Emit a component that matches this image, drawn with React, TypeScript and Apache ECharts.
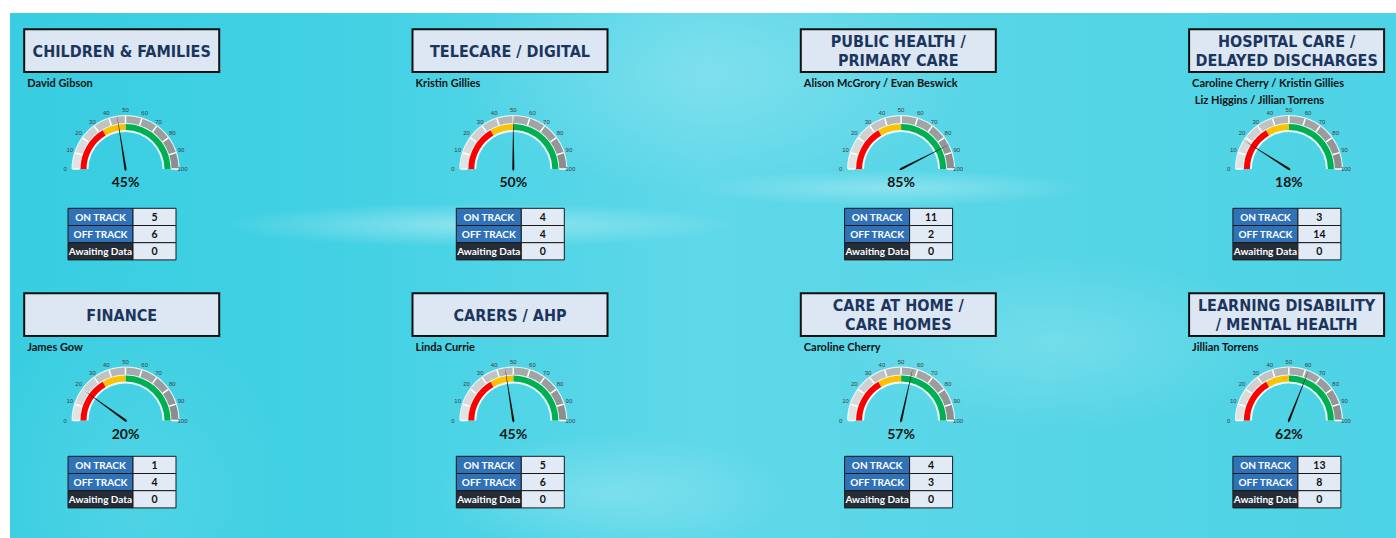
import React, { useEffect, useRef } from "react";
import * as echarts from "echarts";

// ---------------- data ----------------
const titles = [
  "CHILDREN & FAMILIES",
  "TELECARE / DIGITAL",
  "PUBLIC HEALTH /\nPRIMARY CARE",
  "HOSPITAL CARE /\nDELAYED DISCHARGES",
  "FINANCE",
  "CARERS / AHP",
  "CARE AT HOME /\nCARE HOMES",
  "LEARNING DISABILITY\n/ MENTAL HEALTH",
];
const leads = [
  "David Gibson",
  "Kristin Gillies",
  "Alison McGrory / Evan Beswick",
  "Caroline Cherry / Kristin Gillies\n Liz Higgins / Jillian Torrens",
  "James Gow",
  "Linda Currie",
  "Caroline Cherry",
  "Jillian Torrens",
];
const percentages = [45, 50, 85, 18, 20, 45, 57, 62];
const onTrack = [5, 4, 11, 3, 1, 5, 4, 13];
const offTrack = [6, 4, 2, 14, 4, 6, 3, 8];
const awaitingData = [0, 0, 0, 0, 0, 0, 0, 0];
const statusLabels = ["ON TRACK", "OFF TRACK", "Awaiting Data"];
const scaleMin = 0;
const scaleMax = 100;
const scaleSplits = 10;
const bandLimits = [0.33, 0.5, 1]; // red, amber, green

// ---------------- styles / layout ----------------
const W = 1386;
const H = 525;
const COL_STEP = 388.3;
const TITLE_CX0 = 111.7;
const GAUGE_CX0 = 115.5;
const GAUGE_STEP = 387.8;
const BOX_W = 195;
const BOX_H = 42.7;
const BOX_TOP = [16.3, 280.3];
const NAME_Y = [69, 333];
const GAUGE_CY = [156, 407.5];
const TABLE_TOP = [195.3, 443.3];
const ROW_H = 17.2;
const LBL_W = 65;
const VAL_W = 43;

const TITLE_FONT = "'DejaVu Sans Condensed', 'Open Sans', sans-serif";
const BODY_FONT = "Lato, 'Open Sans', sans-serif";

const grayShades = [
  "#e2e2e2", "#dadada", "#d0d0d0", "#c2c2c2", "#b6b6b6",
  "#a9a9a9", "#a3a3a3", "#9c9c9c", "#959595", "#8d8d8d",
];
const bandColors = ["#ff0000", "#ffc000", "#00b050"];
const labelFills = ["#2f72b8", "#2f72b8", "#252d39"];

function buildOption() {
  const series: any[] = [];
  const graphic: any[] = [];

  titles.forEach((title, i) => {
    const col = i % 4;
    const row = Math.floor(i / 4);
    const tcx = TITLE_CX0 + COL_STEP * col;
    const boxLeft = tcx - BOX_W / 2;
    const boxTop = BOX_TOP[row];

    // Title box
    graphic.push({
      type: "rect",
      shape: { x: boxLeft, y: boxTop, width: BOX_W, height: BOX_H },
      style: { fill: "#dde7f3", stroke: "#111", lineWidth: 2 },
    });
    graphic.push({
      type: "text",
      x: tcx,
      y: boxTop + BOX_H / 2 + 0.5,
      style: {
        text: title,
        fill: "#1b365e",
        font: `bold 16px ${TITLE_FONT}`,
        align: "center",
        verticalAlign: "middle",
        lineHeight: 19,
      },
    });
    // Lead names
    graphic.push({
      type: "text",
      x: boxLeft + 3,
      y: NAME_Y[row] - 8.5,
      style: {
        text: leads[i],
        fill: "#111",
        font: `bold 11px ${BODY_FONT}`,
        align: "left",
        verticalAlign: "top",
        lineHeight: 17,
      },
    });

    // Status table
    const tLeft = tcx - 53.7;
    const vals = [onTrack[i], offTrack[i], awaitingData[i]];
    statusLabels.forEach((lab, r) => {
      const y = TABLE_TOP[row] + r * ROW_H;
      graphic.push({
        type: "rect",
        shape: { x: tLeft, y, width: LBL_W, height: ROW_H },
        style: { fill: labelFills[r], stroke: "#1a1a1a", lineWidth: 1 },
      });
      graphic.push({
        type: "rect",
        shape: { x: tLeft + LBL_W, y, width: VAL_W, height: ROW_H },
        style: { fill: "#e1eaf5", stroke: "#1a1a1a", lineWidth: 1 },
      });
      graphic.push({
        type: "text",
        x: tLeft + LBL_W / 2,
        y: y + ROW_H / 2,
        style: {
          text: lab,
          fill: "#fff",
          font: `bold 10px ${BODY_FONT}`,
          align: "center",
          verticalAlign: "middle",
        },
      });
      graphic.push({
        type: "text",
        x: tLeft + LBL_W + VAL_W / 2,
        y: y + ROW_H / 2,
        style: {
          text: String(vals[r]),
          fill: "#111",
          font: `bold 10.5px ${BODY_FONT}`,
          align: "center",
          verticalAlign: "middle",
        },
      });
    });

    // Gauge
    const cx = GAUGE_CX0 + GAUGE_STEP * col;
    const cy = GAUGE_CY[row];
    const base = {
      type: "gauge",
      center: [cx, cy],
      startAngle: 180,
      endAngle: 0,
      min: scaleMin,
      max: scaleMax,
      splitNumber: scaleSplits,
      silent: true,
      axisTick: { show: false },
      splitLine: { show: false, length: 0, distance: 0 },
      axisLabel: { show: false },
      pointer: { show: false },
      anchor: { show: false },
      title: { show: false },
      detail: { show: false },
      progress: { show: false },
      data: [{ value: percentages[i] }],
    };
    series.push({
      ...base,
      radius: 54,
      axisLine: { lineStyle: { width: 17, color: [[1, "rgba(255,255,255,0.85)"]] } },
    });
    series.push({
      ...base,
      radius: 53,
      axisLine: {
        lineStyle: {
          width: 7,
          color: grayShades.map((c, k) => [(k + 1) / grayShades.length, c]),
        },
      },
      splitLine: { show: true, length: 7, distance: -7, lineStyle: { color: "#ffffff", width: 1.5 } },
    });
    series.push({
      ...base,
      radius: 45,
      axisLine: {
        lineStyle: { width: 6, color: bandLimits.map((b, k) => [b, bandColors[k]]) },
      },
    });
    series.push({
      ...base,
      radius: 62,
      axisLine: { show: false, lineStyle: { width: 0 } },
      axisLabel: {
        show: true,
        distance: 0,
        fontSize: 6,
        color: "#404040",
        fontFamily: "'Liberation Sans', sans-serif",
      },
      pointer: { show: true, length: 55, width: 1.1, itemStyle: { color: "#111" } },
      detail: {
        show: true,
        offsetCenter: [0, 12.5],
        formatter: "{value}%",
        fontSize: 14,
        fontWeight: "bold",
        fontFamily: BODY_FONT,
        color: "#141414",
        valueAnimation: false,
      },
    });
  });

  return { animation: false, series, graphic };
}

export default function App() {
  const ref = useRef<HTMLDivElement>(null);
  useEffect(() => {
    if (!ref.current) return;
    const chart = echarts.init(ref.current, undefined, { renderer: "svg" });
    chart.setOption(buildOption() as any);
    return () => chart.dispose();
  }, []);
  return (
    <div
      style={{
        position: "fixed",
        left: 10,
        top: 13,
        width: W,
        height: H,
        background: [
          "radial-gradient(ellipse 260px 22px at 470px 212px, rgba(255,255,255,0.38), rgba(255,255,255,0) 100%)",
          "radial-gradient(ellipse 200px 18px at 880px 175px, rgba(255,255,255,0.30), rgba(255,255,255,0) 100%)",
          "radial-gradient(ellipse 180px 60px at 600px 480px, rgba(255,255,255,0.22), rgba(255,255,255,0) 100%)",
          "radial-gradient(ellipse 260px 120px at 700px 60px, rgba(255,255,255,0.20), rgba(255,255,255,0) 100%)",
          "radial-gradient(ellipse 220px 90px at 1050px 330px, rgba(255,255,255,0.18), rgba(255,255,255,0) 100%)",
          "radial-gradient(ellipse 160px 200px at 120px 480px, rgba(255,255,255,0.10), rgba(255,255,255,0) 100%)",
          "linear-gradient(90deg, #38cde1 0%, #43d1e4 25%, #5fd8e9 50%, #55d5e6 75%, #4cd3e5 100%)",
        ].join(", "),
      }}
    >
      <div ref={ref} style={{ width: W, height: H }} />
    </div>
  );
}
